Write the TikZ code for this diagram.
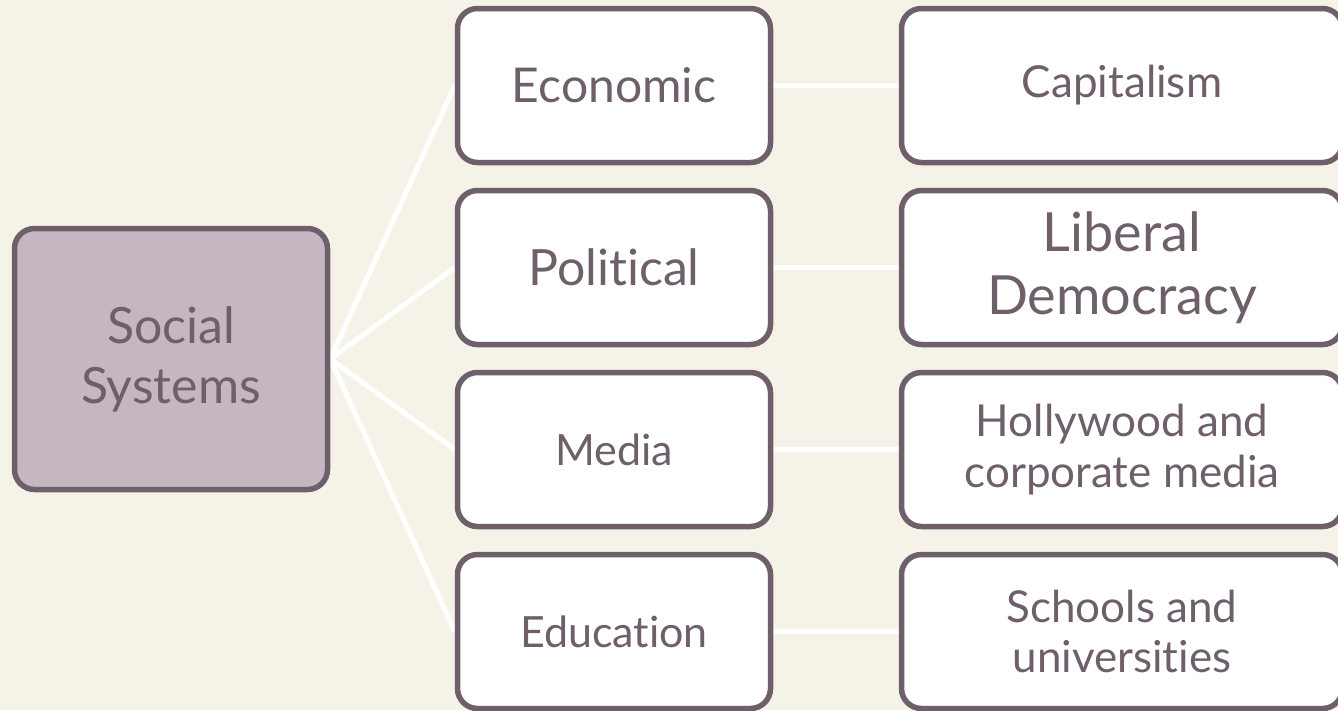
\documentclass[tikz,border=0pt]{standalone}
\usepackage{fontspec}
\setmainfont{Lato}[Ligatures={NoCommon,NoRequired}]
\usetikzlibrary{positioning,backgrounds}
\definecolor{cream}{HTML}{F5F3E8}
\definecolor{plum}{HTML}{6E5F6B}
\definecolor{mauve}{HTML}{C4B7C2}
\begin{document}
\begin{tikzpicture}[x=1pt, y=1pt, node distance={182pt}, main/.style = {draw=plum, line width=5.5pt, rounded corners=20pt, fill=white, text=plum, align=center, minimum width=313pt, minimum height=154pt, inner sep=0pt}, wide/.style = {main, minimum width=441pt}, link/.style = {draw=white, line width=5pt}]
\useasboundingbox (0,0) rectangle (1338,-710);
\clip (0,0) rectangle (1338,-710);

\node[main, fill=mauve, minimum height=261pt, font=\fontsize{50}{60}\selectfont] (root) at (171,-359) {Social\\Systems};

\node[main, font=\fontsize{48}{60}\selectfont] (econ) at (614,-85.5) {Economic};
\node[main, font=\fontsize{50}{60}\selectfont] (pol) [below of=econ] {Political};
\node[main, font=\fontsize{43}{50}\selectfont] (media) [below of=pol] {Media};
\node[main, font=\fontsize{43}{50}\selectfont] (edu) [below of=media] {Education};

\node[wide, font=\fontsize{44}{50}\selectfont] (cap) at (1122,-85.5) {Capitalism};
\node[wide, font=\fontsize{54}{63}\selectfont] (demo) [below of=cap] {Liberal\\Democracy};
\node[wide, font=\fontsize{44}{51}\selectfont] (holly) [below of=demo] {Hollywood and\\corporate media};
\node[wide, font=\fontsize{44}{50}\selectfont] (school) [below of=holly] {Schools and\\universities};

\begin{scope}[on background layer]
\fill[cream] (0,0) rectangle (1338,-710);

\draw[link] (root.east) -- (econ.west);
\draw[link] (root.east) -- (pol.west);
\draw[link] (root.east) -- (media.west);
\draw[link] (root.east) -- (edu.west);

\draw[link] (econ) -- (cap);
\draw[link] (pol) -- (demo);
\draw[link] (media) -- (holly);
\draw[link] (edu) -- (school);
\end{scope}

\end{tikzpicture}
\end{document}
